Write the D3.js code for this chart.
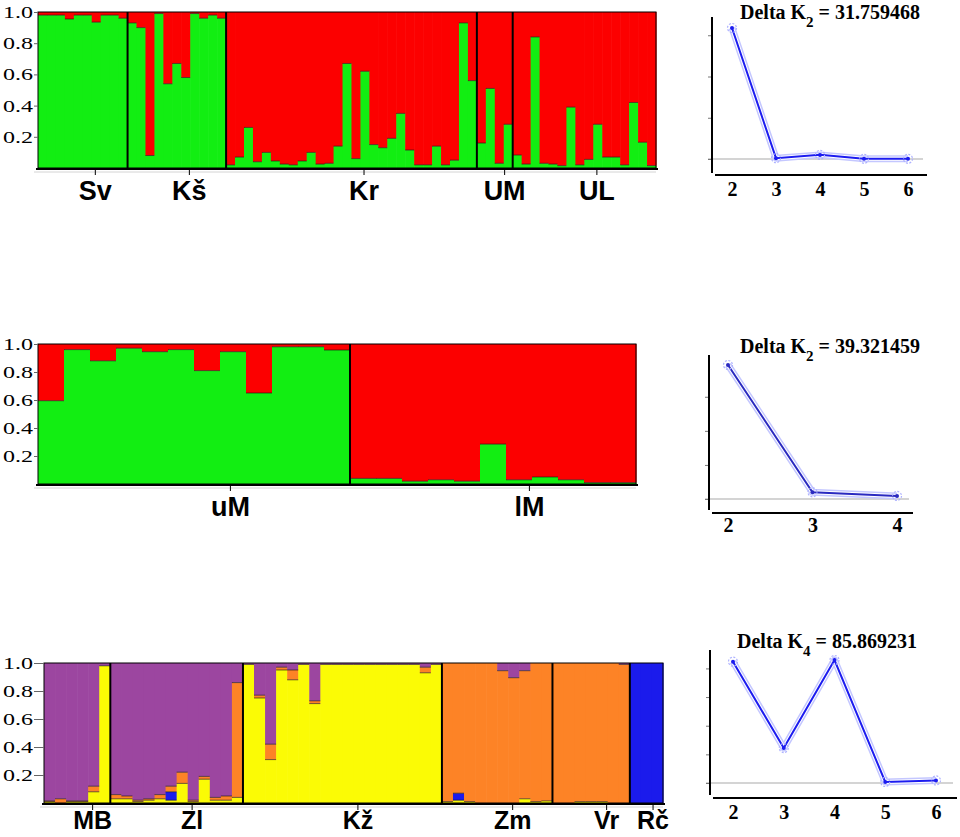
<!DOCTYPE html>
<html>
<head>
<meta charset="utf-8">
<script src="https://cdn.jsdelivr.net/npm/d3@7"></script>
<style>
  body { margin: 0; background: #fff; }
  svg { display: block; }
  .pop { font-family: "Liberation Sans", Arial, sans-serif; font-weight: bold; fill: #000; }
  .qtick text { font-family: "Liberation Serif", "Times New Roman", serif; font-size: 17px; fill: #000; }
  .dk { font-family: "Liberation Serif", "Times New Roman", serif; font-weight: bold; fill: #000; }
</style>
</head>
<body>
<div id="chart"></div>
<script>
// STRUCTURE runs, K = 2 (top): green share of each individual, grouped by population
var popsA = ["Sv", "Kš", "Kr", "UM", "UL"];
var greenA = [
  [0.98, 0.98, 0.98, 0.955, 0.98, 0.98, 0.935, 0.98, 0.98, 0.96],
  [0.93, 0.90, 0.08, 0.99, 0.54, 0.67, 0.58, 0.99, 0.96, 0.98, 0.96],
  [0.02, 0.07, 0.26, 0.04, 0.10, 0.045, 0.025, 0.02, 0.045, 0.10, 0.025, 0.03, 0.14, 0.67,
   0.06, 0.62, 0.15, 0.13, 0.19, 0.35, 0.115, 0.02, 0.02, 0.14, 0.02, 0.05, 0.93, 0.56],
  [0.16, 0.51, 0.03, 0.28],
  [0.083, 0.025, 0.84, 0.03, 0.025, 0.015, 0.39, 0.02, 0.055, 0.28, 0.07, 0.07, 0.02, 0.42, 0.165, 0.015]
];

// K = 2 (middle)
var popsB = ["uM", "lM"];
var greenB = [
  [0.595, 0.96, 0.88, 0.97, 0.945, 0.96, 0.81, 0.945, 0.65, 0.98, 0.98, 0.957],
  [0.04, 0.04, 0.02, 0.03, 0.02, 0.285, 0.03, 0.05, 0.03, 0.01, 0.01]
];

// K = 4 (bottom): yellow, blue, orange, purple (bottom to top)
var popsC = ["MB", "Zl", "Kž", "Zm", "Vr", "Rč"];
var qC = [
  [[0.01, 0, 0.005, 0.985], [0, 0, 0.03, 0.97], [0.01, 0, 0.005, 0.985], [0.01, 0, 0.005, 0.985],
   [0.08, 0, 0.04, 0.88], [0.98, 0, 0, 0.02]],
  [[0.03, 0, 0.03, 0.94], [0.03, 0, 0.02, 0.95], [0.01, 0, 0.01, 0.98], [0.02, 0, 0.01, 0.97],
   [0.03, 0, 0.03, 0.94], [0.02, 0.06, 0.04, 0.88], [0.14, 0, 0.08, 0.78], [0.01, 0, 0.01, 0.98],
   [0.17, 0, 0.02, 0.81], [0.02, 0, 0.02, 0.96], [0.02, 0, 0.03, 0.95], [0.04, 0, 0.82, 0.14]],
  [[0.99, 0, 0, 0.01], [0.75, 0, 0.02, 0.23], [0.31, 0, 0.11, 0.58], [0.95, 0, 0.02, 0.03],
   [0.88, 0, 0.07, 0.05], [0.99, 0, 0, 0.01], [0.71, 0, 0.02, 0.27], [0.99, 0, 0, 0.01],
   [0.99, 0, 0, 0.01], [0.99, 0, 0, 0.01], [0.99, 0, 0, 0.01], [0.99, 0, 0, 0.01],
   [0.99, 0, 0, 0.01], [0.99, 0, 0, 0.01], [0.99, 0, 0, 0.01], [0.99, 0, 0, 0.01],
   [0.93, 0, 0.04, 0.03], [0.99, 0, 0, 0.01]],
  [[0.01, 0, 0.99, 0], [0.02, 0.05, 0.93, 0], [0.01, 0, 0.99, 0], [0, 0, 1, 0], [0, 0, 1, 0],
   [0, 0, 0.945, 0.055], [0, 0, 0.895, 0.105], [0.03, 0, 0.915, 0.055], [0.01, 0, 0.99, 0],
   [0.015, 0, 0.985, 0]],
  [[0, 0, 1, 0], [0, 0, 1, 0], [0.01, 0, 0.99, 0], [0.01, 0, 0.99, 0], [0.01, 0, 0.99, 0],
   [0, 0, 1, 0], [0, 0, 0.99, 0.01]],
  [[0, 1, 0, 0], [0, 1, 0, 0], [0, 1, 0, 0]]
];

var qTicks = [0.2, 0.4, 0.6, 0.8, 1.0];

// Evanno Delta K against K
var kA = [2, 3, 4, 5, 6];
var deltaA = [31.759468, 0.2, 1.0, 0.05, 0.05];
var kB = [2, 3, 4];
var deltaB = [39.321459, 1.97, 0.9];
var kC = [2, 3, 4, 5, 6];
var deltaC = [84.7, 24.4, 85.869231, 0.7, 1.8];

// Colours
var colorsAB = ["#12ee12", "#fc0000"];
var colorsC = ["#fbfb05", "#1b1bec", "#fd8326", "#9c46a0"];

var svg = d3.select("#chart").append("svg")
  .attr("width", 960)
  .attr("height", 837);

// Draw one STRUCTURE bar plot
// ==============================
function drawStructure(pops, q, colors, box) {
  var inds = [], groups = [];
  pops.forEach(function(p, i) {
    groups.push({name: p, start: inds.length, size: q[i].length});
    q[i].forEach(function(v) { inds.push(v); });
  });
  var n = inds.length;

  var x = d3.scaleBand().domain(d3.range(n)).range([box.x0, box.x1]);
  var xi = d3.scaleLinear().domain([0, n]).range([box.x0, box.x1]);
  var y = d3.scaleLinear().domain([0, 1]).range([box.y0, box.y1]);

  var g = svg.append("g");

  var segs = [];
  inds.forEach(function(vals, i) {
    var tot = d3.sum(vals), c = 0;
    vals.forEach(function(v, k) {
      var f = v / tot;
      if (f > 0) segs.push({i: i, k: k, lo: c, hi: c + f});
      c += f;
    });
  });

  g.selectAll("rect.seg")
    .data(segs)
    .enter().append("rect")
    .attr("class", "seg")
    .attr("x", d => x(d.i))
    .attr("width", x.bandwidth() + 0.6)
    .attr("y", d => y(d.hi))
    .attr("height", d => y(d.lo) - y(d.hi))
    .attr("fill", d => colors[d.k]);

  // thin dark edge where one cluster meets the next
  g.selectAll("line.edge")
    .data(segs.filter(d => d.hi < 0.995 && d.hi - d.lo > 0.004))
    .enter().append("line")
    .attr("x1", d => x(d.i))
    .attr("x2", d => x(d.i) + x.bandwidth())
    .attr("y1", d => y(d.hi))
    .attr("y2", d => y(d.hi))
    .attr("stroke", "#111")
    .attr("stroke-opacity", 0.6)
    .attr("stroke-width", 1);

  // frame and population borders
  g.append("rect")
    .attr("x", box.x0).attr("y", box.y1)
    .attr("width", box.x1 - box.x0).attr("height", box.y0 - box.y1)
    .attr("fill", "none").attr("stroke", "#000").attr("stroke-width", 1);

  g.selectAll("line.sep")
    .data(groups.slice(1))
    .enter().append("line")
    .attr("x1", d => xi(d.start)).attr("x2", d => xi(d.start))
    .attr("y1", box.y1).attr("y2", box.y0)
    .attr("stroke", "#000").attr("stroke-width", 2);

  // y axis
  var yAxis = d3.axisLeft(y)
    .tickValues(qTicks)
    .tickSize(box.x0 - 34)
    .tickPadding(1)
    .tickFormat(d3.format(".1f"));
  var ya = g.append("g")
    .attr("class", "qtick")
    .attr("transform", `translate(${box.x0}, 0)`)
    .call(yAxis);
  ya.select(".domain").remove();
  ya.selectAll(".tick line").attr("stroke", "#666");
  ya.selectAll(".tick text")
    .attr("textLength", 30)
    .attr("lengthAdjust", "spacingAndGlyphs");

  // bottom line
  g.append("line")
    .attr("x1", box.x0 - 2).attr("x2", box.x1 + 2)
    .attr("y1", box.y0 + 1).attr("y2", box.y0 + 1)
    .attr("stroke", "#000").attr("stroke-width", 2);
  g.append("line")
    .attr("x1", box.x0 - 4).attr("x2", box.x1)
    .attr("y1", box.y0 + 4).attr("y2", box.y0 + 4)
    .attr("stroke", "#d4d4d4").attr("stroke-width", 1);

  // population labels
  groups.forEach(function(d) {
    d.at = Math.min(d.start + d.size / 2 + 1.4, d.start + d.size - 0.9);
  });
  g.selectAll("line.ptick")
    .data(groups)
    .enter().append("line")
    .attr("x1", d => xi(d.at)).attr("x2", d => xi(d.at))
    .attr("y1", box.y0 + 2).attr("y2", box.y0 + 7)
    .attr("stroke", "#000").attr("stroke-width", 1);

  g.selectAll("text.pop")
    .data(groups)
    .enter().append("text")
    .attr("class", "pop")
    .attr("x", d => xi(d.at))
    .attr("y", box.labelY)
    .attr("text-anchor", "middle")
    .style("font-size", box.labelSize + "px")
    .text(d => d.name);
}

// Draw one Delta K plot
// ==============================
function drawDelta(ks, deltas, box) {
  var x = d3.scalePoint().domain(ks).range([box.k0, box.k1]);
  var maxD = d3.max(deltas);
  var best = ks[deltas.indexOf(maxD)];
  var y = d3.scaleLinear().domain([0, maxD]).range([box.zero, box.top]);
  var pts = ks.map(function(k, i) { return {k: k, d: deltas[i]}; });

  var g = svg.append("g");

  // zero line
  g.append("line")
    .attr("x1", box.axisX - 4).attr("x2", box.right - 4)
    .attr("y1", y(0)).attr("y2", y(0))
    .attr("stroke", "#c6c6c6").attr("stroke-width", 1.5);

  // axes
  g.append("line")
    .attr("x1", box.axisX).attr("x2", box.axisX)
    .attr("y1", box.axisTop).attr("y2", box.axisBottom)
    .attr("stroke", "#000").attr("stroke-width", 2);
  g.append("line")
    .attr("x1", box.axisX + 3).attr("x2", box.right)
    .attr("y1", box.baseY).attr("y2", box.baseY)
    .attr("stroke", "#000").attr("stroke-width", 2);

  var step = maxD > 50 ? 20 : 10;
  var ya = g.append("g")
    .attr("transform", `translate(${box.axisX - 1}, 0)`)
    .call(d3.axisLeft(y).tickValues(d3.range(0, maxD, step)).tickSize(3).tickFormat(""));
  ya.select(".domain").remove();
  ya.selectAll(".tick line").attr("stroke", "#777");

  var xa = g.append("g")
    .attr("transform", `translate(0, ${box.labelY - 15})`)
    .call(d3.axisBottom(x).tickSize(0).tickPadding(0));
  xa.select(".domain").remove();
  xa.selectAll(".tick text")
    .attr("class", "dk")
    .attr("dy", "0.71em")
    .style("font-size", "20px");

  // line with its pale halo
  var line = d3.line().x(d => x(d.k)).y(d => y(d.d));
  g.append("path").datum(pts).attr("d", line)
    .attr("fill", "none").attr("stroke", "#c4c7ff").attr("stroke-width", 7)
    .attr("stroke-linejoin", "round");
  g.append("path").datum(pts).attr("d", line)
    .attr("fill", "none").attr("stroke", "#fff").attr("stroke-width", 4)
    .attr("stroke-linejoin", "round");
  g.append("path").datum(pts).attr("d", line)
    .attr("fill", "none").attr("stroke", box.color).attr("stroke-width", 2);

  g.selectAll("circle.halo")
    .data(pts).enter().append("circle")
    .attr("cx", d => x(d.k)).attr("cy", d => y(d.d)).attr("r", 4.5)
    .attr("fill", "none").attr("stroke", "#aeb2ff").attr("stroke-width", 1.2)
    .attr("stroke-dasharray", "2,1.5");
  g.selectAll("circle.dot")
    .data(pts).enter().append("circle")
    .attr("cx", d => x(d.k)).attr("cy", d => y(d.d)).attr("r", 2)
    .attr("fill", box.color);

  // title: Delta K_best = value
  var t = g.append("text")
    .attr("class", "dk")
    .attr("x", box.titleX)
    .attr("y", box.titleY)
    .attr("text-anchor", "middle")
    .style("font-size", "20px");
  t.append("tspan").text("Delta K");
  t.append("tspan").attr("dy", 8).style("font-size", "15px").text(best);
  t.append("tspan").attr("dy", -8).text(" = " + maxD.toFixed(6));
}

drawStructure(popsA, greenA.map(p => p.map(v => [v, 1 - v])), colorsAB,
  {x0: 38, x1: 656, y0: 168, y1: 12, labelY: 200, labelSize: 27});
drawStructure(popsB, greenB.map(p => p.map(v => [v, 1 - v])), colorsAB,
  {x0: 38, x1: 636, y0: 484, y1: 344, labelY: 516, labelSize: 27});
drawStructure(popsC, qC, colorsC,
  {x0: 44, x1: 663, y0: 803, y1: 663, labelY: 829, labelSize: 25});

drawDelta(kA, deltaA, {axisX: 712, axisTop: 17, axisBottom: 173, baseY: 175, right: 927,
  k0: 732, k1: 908, zero: 159, top: 28, labelY: 197, titleX: 830, titleY: 19, color: "#1c1cf0"});
drawDelta(kB, deltaB, {axisX: 709, axisTop: 355, axisBottom: 510, baseY: 513, right: 913,
  k0: 728, k1: 897, zero: 499, top: 365, labelY: 533, titleX: 830, titleY: 353, color: "#2a2ac0"});
drawDelta(kC, deltaC, {axisX: 710, axisTop: 650, axisBottom: 795, baseY: 798, right: 957,
  k0: 733, k1: 936, zero: 783, top: 660, labelY: 820, titleX: 827, titleY: 648, color: "#1c1cf0"});
</script>
</body>
</html>
